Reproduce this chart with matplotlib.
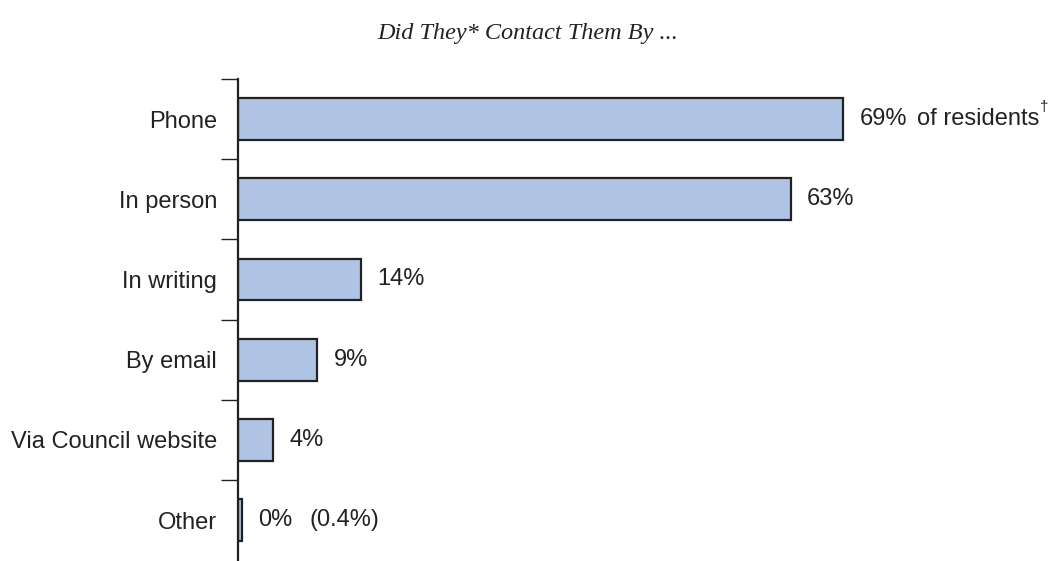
import matplotlib
matplotlib.use("Agg")
import matplotlib.pyplot as plt
from matplotlib.ticker import FixedLocator

categories = ["Phone", "In person", "In writing", "By email", "Via Council website", "Other"]
values = [69, 63, 14, 9, 4, 0.4]
value_labels = ["69%", "63%", "14%", "9%", "4%", "0%"]
title = "Did They* Contact Them By ..."

plt.rcParams["font.family"] = ["Liberation Sans", "DejaVu Sans"]

fig = plt.figure(figsize=(10.54, 5.61), dpi=100)
W, H = 1054, 561
ax = fig.add_axes([238 / W, 0, (1000 - 238) / W, (561 - 79) / H])

ypos = list(range(len(categories)))
ax.barh(ypos, values, height=0.52, color="#afc4e4", edgecolor="#222222",
        linewidth=1.6)

px_per_unit = 8.77
ax.set_xlim(0, (1000 - 238) / px_per_unit)
ax.set_ylim(5.51, -0.5)

FS = 17
for y, v, lab in zip(ypos, values, value_labels):
    ax.annotate(lab, xy=(v, y), xytext=(12, 0), textcoords="offset points",
                va="center", ha="left", fontsize=FS, color="#222222")

# extra annotations
ax.annotate("of residents", xy=(values[0], 0), xytext=(53, 0),
            textcoords="offset points", va="center", ha="left",
            fontsize=FS, color="#222222")
ax.annotate("\u2020", xy=(values[0], 0), xytext=(142, 9),
            textcoords="offset points", va="center", ha="left",
            fontsize=11, color="#222222")
ax.annotate("(0.4%)", xy=(values[5], 5), xytext=(49, 0),
            textcoords="offset points", va="center", ha="left",
            fontsize=FS, color="#222222")

for side in ["top", "right", "bottom"]:
    ax.spines[side].set_visible(False)
ax.spines["left"].set_linewidth(1.6)
ax.spines["left"].set_color("#222222")
ax.xaxis.set_visible(False)

ax.set_yticks(ypos)
ax.set_yticklabels(categories, fontsize=FS, color="#222222")
ax.tick_params(axis="y", which="major", length=0, pad=15)
ax.yaxis.set_minor_locator(FixedLocator([-0.5, 0.5, 1.5, 2.5, 3.5, 4.5]))
ax.tick_params(axis="y", which="minor", length=12, width=1.0, color="#222222")

fig.text(528 / W, 1 - 33 / H, title, ha="center", va="center",
         fontsize=17.5, style="italic", family=["Liberation Serif", "DejaVu Serif"],
         color="#222222")

fig.savefig("out.png", dpi=100)
